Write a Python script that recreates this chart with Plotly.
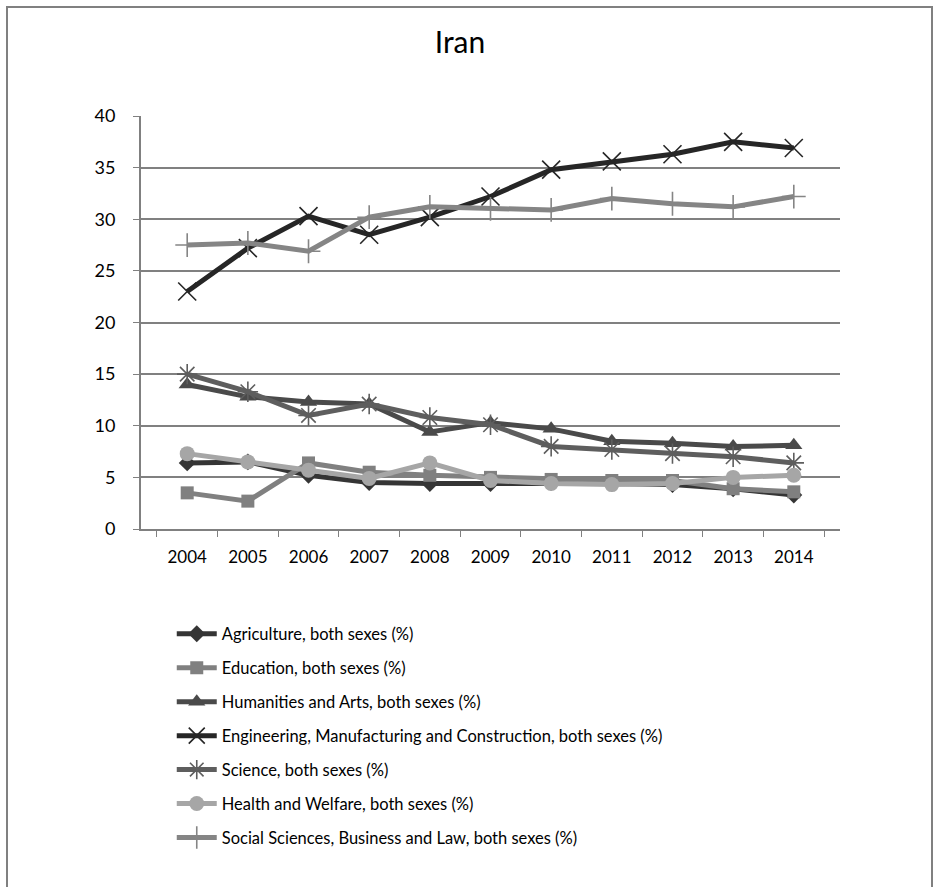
import plotly.graph_objects as go

years = ["2004", "2005", "2006", "2007", "2008", "2009", "2010", "2011", "2012", "2013", "2014"]

agriculture = [6.4, 6.5, 5.2, 4.5, 4.4, 4.4, 4.5, 4.4, 4.3, 3.9, 3.3]
education = [3.5, 2.7, 6.4, 5.5, 5.2, 5.0, 4.8, 4.7, 4.7, 3.9, 3.6]
humanities = [14.0, 12.8, 12.3, 12.1, 9.4, 10.3, 9.7, 8.5, 8.3, 8.0, 8.1]
engineering = [23.0, 27.2, 30.3, 28.5, 30.2, 32.2, 34.8, 35.6, 36.3, 37.5, 36.9]
science = [15.0, 13.3, 11.0, 12.1, 10.8, 10.1, 8.0, 7.7, 7.3, 7.0, 6.4]
health = [7.3, 6.5, 5.7, 4.9, 6.4, 4.7, 4.4, 4.3, 4.4, 5.0, 5.2]
social = [27.5, 27.7, 26.9, 30.2, 31.2, 31.0, 30.9, 32.0, 31.5, 31.2, 32.2]

names = [
    "Agriculture, both sexes (%)",
    "Education, both sexes (%)",
    "Humanities and Arts, both sexes (%)",
    "Engineering, Manufacturing and Construction, both sexes (%)",
    "Science, both sexes (%)",
    "Health and Welfare, both sexes (%)",
    "Social Sciences, Business and Law, both sexes (%)",
]
series = [agriculture, education, humanities, engineering, science, health, social]
colors = ["#353535", "#808080", "#4a4a4a", "#262626", "#5e5e5e", "#a6a6a6", "#858585"]
symbols = ["diamond", "square", "triangle-up", "x-thin", "asterisk", "circle", "cross-thin"]
sizes = [13, 13, 15, 18, 17, 15, 17]

fig = go.Figure()
for i, (name, vals, col, sym, sz) in enumerate(zip(names, series, colors, symbols, sizes)):
    thin = sym in ("x-thin", "asterisk", "cross-thin")
    fig.add_trace(go.Scatter(
        x=years, y=vals, name=name, mode="lines+markers", legendgroup=f"g{i}",
        line=dict(color=col, width=5),
        marker=dict(symbol=sym, size=sz, color=col,
                    line=dict(color=col, width=1.6 if thin else 0)),
    ))

fig.update_layout(
    width=938, height=887,
    paper_bgcolor="white", plot_bgcolor="white",
    margin=dict(l=141, r=98, t=116, b=358),
    font=dict(family="Lato, 'Open Sans', sans-serif", size=16, color="black"),
    title=dict(text="Iran", x=460/938, xanchor="center", y=1-42/887, yanchor="middle",
               font=dict(size=30, color="black")),
    showlegend=True,
    legend=dict(x=0.044, xanchor="left", y=-0.212, yanchor="top",
                font=dict(size=16.5), tracegroupgap=9.5, itemwidth=40,
                bgcolor="rgba(0,0,0,0)"),
    shapes=[dict(type="rect", xref="paper", yref="paper",
                 x0=-134/699, x1=791/699, y0=-0.95, y1=522/413,
                 line=dict(color="#808080", width=2), layer="below")],
)
fig.update_xaxes(type="category", tickson="boundaries", ticks="outside", ticklen=6,
                 tickcolor="#808080", showline=True, linecolor="#808080", linewidth=2,
                 showgrid=False, tickfont=dict(size=17), ticklabelstandoff=12)
fig.update_yaxes(range=[0, 40], dtick=5, ticks="outside", ticklen=6, tickcolor="#808080",
                 showline=True, linecolor="#808080", linewidth=2,
                 showgrid=True, gridcolor="#808080", gridwidth=1.5,
                 zeroline=False, tickfont=dict(size=18), ticklabelstandoff=14)

fig.write_html("out.html")
